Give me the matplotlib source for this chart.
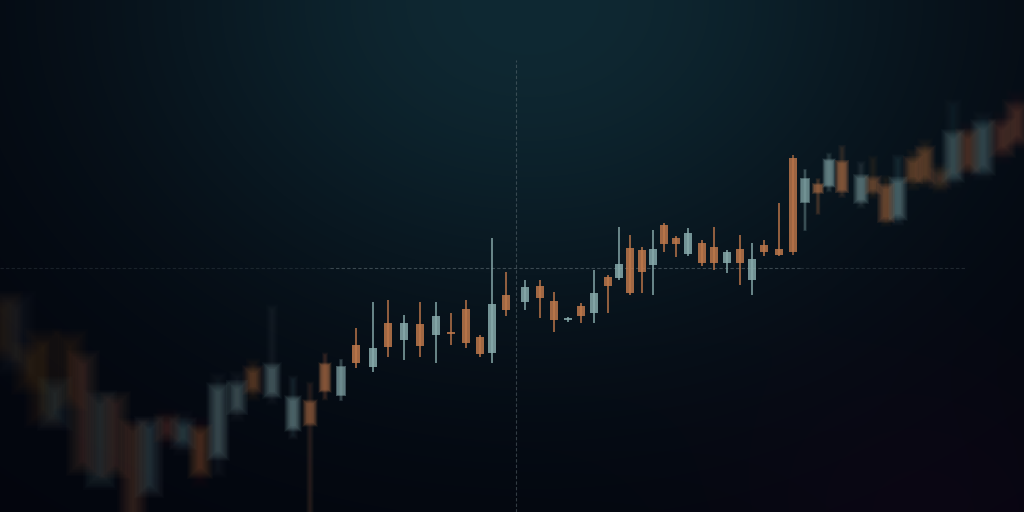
"""Dark candlestick backdrop with a shallow depth of field."""
import matplotlib
matplotlib.use("Agg")
import matplotlib.pyplot as plt
import numpy as np
from matplotlib.colors import to_rgb

# candle time positions and OHLC prices (price = distance from the bottom edge)
t = [3, 16, 30, 43, 55, 70, 83, 100, 115, 133,
     149, 167, 183, 200, 218, 237, 253, 272, 293, 310,
     325, 341, 356, 373, 388, 404, 420, 436, 451, 466,
     480, 492, 506, 525, 540, 554, 568, 581, 594, 608,
     619, 630, 642, 653, 664, 676, 688, 702, 714, 727,
     740, 752, 764, 779, 793, 805, 818, 829, 842, 861,
     873, 886, 898, 913, 925, 940, 953, 968, 983, 1002, 1017]
opens = [205, 152, 155, 169, 95, 169, 149, 35, 109, 82,
         25, 89, 72, 79, 59, 104, 140, 119, 85, 109,
         147, 117, 167, 145, 189, 172, 188, 177, 180, 203,
         175, 159, 217, 210, 226, 211, 192, 206, 199, 235,
         234, 264, 262, 247, 287, 274, 258, 269, 265, 249,
         263, 232, 267, 263, 354, 310, 327, 327, 349, 312,
         332, 324, 297, 350, 360, 337, 337, 375, 345, 384, 402]
closes = [165, 205, 132, 99, 122, 115, 49, 109, 45, -3,
          85, 79, 85, 42, 122, 125, 124, 144, 112, 89,
          122, 145, 149, 164, 165, 189, 166, 196, 178, 169,
          158, 208, 202, 225, 214, 192, 194, 196, 219, 226,
          248, 219, 240, 263, 268, 268, 279, 249, 249, 260,
          249, 253, 260, 257, 260, 333, 320, 351, 322, 334,
          322, 294, 330, 334, 335, 330, 375, 347, 384, 364, 375]
highs = [212, 232, 167, 177, 132, 177, 157, 117, 117, 92,
         97, 94, 92, 87, 132, 134, 147, 202, 132, 127,
         157, 152, 184, 210, 212, 197, 210, 210, 199, 212,
         177, 274, 240, 232, 232, 220, 195, 209, 242, 237,
         285, 277, 265, 282, 289, 276, 284, 272, 285, 262,
         277, 269, 272, 309, 357, 342, 332, 357, 364, 347,
         352, 332, 352, 357, 367, 342, 405, 382, 392, 392, 412]
lows = [157, 142, 122, 92, 87, 107, 42, 27, 37, -8,
        17, 72, 66, 32, 42, 97, 117, 112, 77, -5,
        114, 112, 144, 140, 155, 152, 155, 149, 167, 164,
        155, 149, 196, 202, 194, 180, 190, 189, 189, 199,
        232, 217, 219, 217, 260, 255, 256, 246, 242, 239,
        227, 217, 256, 256, 257, 282, 299, 322, 317, 307,
        317, 290, 292, 327, 330, 326, 332, 342, 340, 357, 370]

W, H = 1024, 512
UP, DOWN = "#8aadae", "#c07a4e"
BODY_W, WICK_W = 8.0, 1.3
LAYERS = 12

fig = plt.figure(figsize=(10.24, 5.12), dpi=100)
ax = fig.add_axes([0, 0, 1, 1])
ax.set_xlim(0, W)
ax.set_ylim(0, H)
ax.axis("off")

# background: teal glow from the top centre fading to near black
yy, xx = np.mgrid[0:H, 0:W] + 0.5
glow = np.exp(-((xx - 530) / 420) ** 2 - (yy / 330) ** 2)
deep = np.array([3, 5, 13]) / 255
top = np.array([15, 41, 51]) / 255
bg = deep + glow[..., None] * (top - deep)
red = np.exp(-((xx - 930) / 200) ** 2 - ((yy - 520) / 160) ** 2)
bg = np.clip(bg + red[..., None] * np.array([7, 0, 5]) / 255, 0, 1)
ax.imshow(bg, extent=[0, W, 0, H], origin="upper", aspect="auto",
          interpolation="bilinear", zorder=0)

# crosshair
ax.plot([0, 330], [244, 244], color="#6d7c82", lw=0.8, ls=(0, (3, 2)), alpha=0.2, zorder=1)
ax.plot([330, 800], [244, 244], color="#6d7c82", lw=0.8, ls=(0, (3, 2)), alpha=0.5, zorder=1)
ax.plot([800, 965], [244, 244], color="#6d7c82", lw=0.8, ls=(0, (3, 2)), alpha=0.25, zorder=1)
ax.plot([516, 516], [0, 452], color="#6d7c82", lw=0.8, ls=(0, (3, 2)), alpha=0.45, zorder=1)

x = np.array(t, float)
o = np.array(opens, float)
c = np.array(closes, float)
hi = np.array(highs, float)
lo = np.array(lows, float)

# focus: sharp in the middle, blurred towards both edges
left = np.clip((352 - x) / 352, 0, 1) ** 0.7
right = np.clip((x - 790) / 235, 0, 1) ** 0.8
blur = 9.0 * left + 6.0 * right
bright = 1.0 - 0.6 * left - 0.35 * right

base = np.array([to_rgb(UP) if cc >= oo else to_rgb(DOWN) for oo, cc in zip(o, c)])
b_bot = np.minimum(o, c)
b_h = np.maximum(np.abs(c - o), 1.6)
w_h = hi - lo


def layered(xs, bottoms, heights, width, alpha_total, z):
    a_each = 1 - (1 - alpha_total) ** (1 / LAYERS)
    for i in range(LAYERS):
        e = blur * 1.8 * (i / (LAYERS - 1)) - 0.4 * blur * (1 - i / (LAYERS - 1))
        wd = np.maximum(width + 2 * e, 0.6)
        ht = np.maximum(heights + 2 * e, 0.6)
        rgba = np.column_stack([base, a_each])
        ax.bar(xs, ht, width=wd, bottom=bottoms + heights / 2 - ht / 2,
               color=rgba, linewidth=0, zorder=z)


a_wick = 0.75 * bright * WICK_W / (WICK_W + 1.2 * blur)
a_body = 0.85 * bright * BODY_W / (BODY_W + 1.0 * blur) * b_h / (b_h + 1.0 * blur)
layered(x, lo, w_h, WICK_W, a_wick, 2)
layered(x, b_bot, b_h, BODY_W, a_body, 3)

fig.savefig("out.png", dpi=100, facecolor="#03050d")
